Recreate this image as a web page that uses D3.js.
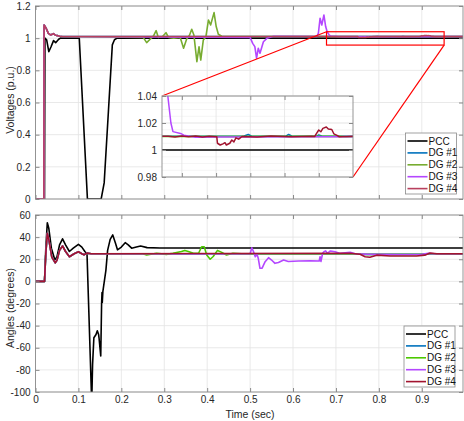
<!DOCTYPE html>
<html>
<head>
<meta charset="utf-8">
<script src="https://cdn.jsdelivr.net/npm/d3@7"></script>
<style>
  html, body { margin: 0; padding: 0; background: #fff; }
  svg { display: block; font-family: "Liberation Sans", Arial, sans-serif; }
  .tick text { font-size: 10px; fill: #262626; }
</style>
</head>
<body>
<div id="chart"></div>
<script>
/* Voltages and angles at the PCC and the four DGs */

const NOMES = ["PCC", "DG #1", "DG #2", "DG #3", "DG #4"];
const CORES_V = ["#000000", "#0072bd", "#77ac30", "#b447ff", "#b8405e"];
const CORES_A = ["#000000", "#0072bd", "#4cc800", "#b447ff", "#a2142f"];

const TICKS_T = [0, 0.1, 0.2, 0.3, 0.4, 0.5, 0.6, 0.7, 0.8, 0.9];
const TICKS_V = [0, 0.2, 0.4, 0.6, 0.8, 1, 1.2];
const TICKS_A = [-100, -80, -60, -40, -20, 0, 20, 40, 60];
const TICKS_IN_T = [0.7, 0.75, 0.8, 0.85, 0.9];
const TICKS_IN_V = [0.98, 1, 1.02, 1.04];

// ---- voltages (p.u.), [t, v]
const vPCC = [[0, 0], [0.021, 0], [0.022, 1.0], [0.026, 0.99], [0.031, 0.916], [0.036, 0.945],
  [0.042, 0.985], [0.047, 0.972], [0.054, 0.993], [0.058, 1.0], [0.102, 1.0], [0.121, 0],
  [0.153, 0], [0.16, 0.1], [0.17, 0.55], [0.179, 0.958], [0.184, 0.99], [0.19, 1.0], [1, 1.0]];
const vInicioDG = [[0, 0], [0.0195, 0], [0.02, 1.082], [0.025, 1.06], [0.03, 1.03], [0.035, 1.02],
  [0.042, 1.028], [0.047, 1.018], [0.051, 1.016], [0.056, 1.012], [0.062, 1.01]];
const vDG1 = vInicioDG.concat([[0.79, 1.0102], [0.797, 1.0115], [0.802, 1.0102], [0.852, 1.0102],
  [0.856, 1.0115], [0.861, 1.0102], [0.897, 1.0102], [0.9, 1.0112], [0.905, 1.0102], [1, 1.0102]]);
const vDG2 = vInicioDG.concat([[0.251, 1.005], [0.259, 0.972], [0.267, 0.993], [0.275, 1.014],
  [0.281, 1.047], [0.286, 1.005], [0.296, 1.01], [0.304, 1.034], [0.31, 1.005], [0.322, 1.0],
  [0.337, 1.005], [0.345, 0.937], [0.352, 0.993], [0.359, 1.02], [0.364, 1.055], [0.369, 1.02],
  [0.376, 0.854], [0.381, 0.947], [0.385, 0.864], [0.391, 0.989], [0.397, 1.009], [0.403, 1.113],
  [0.408, 1.082], [0.416, 1.159], [0.421, 1.072], [0.426, 1.024], [0.434, 1.012], [0.45, 1.01],
  [0.93, 1.0102], [0.94, 1.0098], [1, 1.01]]);
const vDG3 = vInicioDG.concat([[0.5, 1.005], [0.506, 0.968], [0.511, 0.947], [0.515, 0.876],
  [0.519, 0.937], [0.523, 0.906], [0.531, 0.978], [0.539, 0.999], [0.555, 1.012], [0.655, 1.01],
  [0.659, 1.03], [0.663, 1.124], [0.667, 1.082], [0.672, 1.144], [0.676, 1.072], [0.6795, 1.04],
  [0.684, 1.02], [0.687, 1.0136], [0.698, 1.0123], [0.703, 1.011], [0.72, 1.0094], [0.75, 1.0096],
  [0.9, 1.0098], [1, 1.01]]);
const vDG4 = vInicioDG.concat([[0.68, 1.0101], [0.69, 1.0097], [0.7, 1.0103], [0.71, 1.0098],
  [0.72, 1.0104], [0.73, 1.0097], [0.74, 1.0101], [0.751, 1.0099], [0.752, 1.005], [0.756, 1.0037],
  [0.76, 1.0045], [0.763, 1.0054], [0.765, 1.0037], [0.77, 1.005], [0.773, 1.0074], [0.776, 1.006],
  [0.779, 1.009], [0.783, 1.008], [0.788, 1.01], [0.81, 1.0097], [0.83, 1.0103], [0.86, 1.0098],
  [0.89, 1.0101], [0.894, 1.0100], [0.897, 1.0125], [0.9, 1.0148], [0.903, 1.0135], [0.906, 1.016],
  [0.911, 1.017], [0.914, 1.0155], [0.919, 1.0152], [0.922, 1.012], [0.926, 1.011], [0.93, 1.0098],
  [0.95, 1.0102], [1, 1.01]]);

// ---- angles (degrees), [t, graus]
const aPCC = [[0, 0], [0.021, 0], [0.024, 30], [0.0275, 53], [0.031, 48], [0.037, 30],
  [0.045, 19.5], [0.05, 22], [0.056, 33], [0.063, 38.5], [0.07, 33], [0.079, 27], [0.088, 30],
  [0.1, 33.5], [0.108, 31], [0.115, 27], [0.12, 25], [0.131, -110], [0.133, -75], [0.136, -51],
  [0.141, -48], [0.144, -44.6], [0.147, -48], [0.148, -51], [0.152, -67.5], [0.154, -20],
  [0.155, -10], [0.1556, -19], [0.157, -9], [0.164, 10], [0.168, 28], [0.174, 38], [0.18, 42],
  [0.186, 35], [0.191, 28.5], [0.2, 31], [0.209, 35], [0.216, 33], [0.224, 30], [0.235, 31],
  [0.245, 32], [0.26, 30.5], [0.29, 30.2], [1, 30.2]];
const aInicioDG = [[0, 0], [0.021, 0], [0.024, 25], [0.0275, 43.5], [0.031, 38], [0.038, 22],
  [0.046, 16.8], [0.05, 19], [0.056, 28], [0.063, 32], [0.07, 27], [0.079, 22.3], [0.09, 25],
  [0.1, 26.8], [0.108, 25], [0.113, 24], [0.12, 25.5], [0.13, 25]];
const aDG1 = aInicioDG.concat([[0.745, 25], [0.77, 24.4], [0.9, 24.4], [0.93, 25], [1, 25]]);
const aDG2 = aInicioDG.concat([[0.25, 25], [0.259, 23.8], [0.282, 25.4], [0.305, 24.4],
  [0.32, 25.4], [0.34, 27], [0.348, 28], [0.356, 27], [0.368, 25.4], [0.38, 25.4], [0.387, 31.3],
  [0.393, 31.3], [0.399, 23.8], [0.407, 20], [0.414, 22.5], [0.424, 28], [0.434, 26.2],
  [0.445, 23.8], [0.46, 25.4], [0.48, 25], [0.745, 25], [0.77, 24.4], [0.9, 24.4], [0.93, 25], [1, 25]]);
const aDG3 = aInicioDG.concat([[0.5, 25], [0.504, 30.4], [0.508, 26.8], [0.512, 22.3],
  [0.516, 24.5], [0.519, 20.8], [0.523, 11.8], [0.528, 12], [0.535, 17.8], [0.543, 21.4],
  [0.55, 19.3], [0.558, 16.3], [0.566, 17], [0.578, 19.3], [0.589, 18], [0.613, 18.4],
  [0.64, 18.5], [0.661, 18.4], [0.663, 22.3], [0.665, 18], [0.669, 25.4], [0.672, 26.8],
  [0.676, 27.6], [0.68, 25.4], [0.687, 27.5], [0.698, 26.8], [0.71, 25.3], [0.733, 26.3],
  [0.745, 25], [0.77, 24.6], [0.8, 24.4], [0.85, 24.3], [0.9, 24.5], [0.915, 25.3], [0.93, 25], [1, 25]]);
const aDG4 = aInicioDG.concat([[0.733, 25.4], [0.756, 24.5], [0.768, 22.3], [0.779, 21.8],
  [0.795, 23.7], [0.826, 23], [0.888, 23], [0.907, 23.7], [0.919, 25.7], [0.935, 25], [1, 25]]);

const SERIES_V = [vPCC, vDG1, vDG2, vDG3, vDG4];
const SERIES_A = [aPCC, aDG1, aDG2, aDG3, aDG4];

// zoom window drawn in red over the top plot
const JANELA_T = [0.678, 0.952], JANELA_V = [0.957, 1.04];

const W = 464, H = 421;
const x = d3.scaleLinear().domain([0, 0.996]).range([35.5, 463]);
const yV = d3.scaleLinear().domain([0, 1.2]).range([199, 6]);
const yA = d3.scaleLinear().domain([-100, 60]).range([392, 215]);
const xIn = d3.scaleLinear().domain([0.671, 0.95]).range([162, 353]);
const yIn = d3.scaleLinear().domain([0.98, 1.04]).range([177, 96]);

const svg = d3.select("#chart").append("svg").attr("width", W).attr("height", H);
const num = (d) => String(+d.toFixed(3));

function eixos(xs, ys, tx, ty, idClip, gridMenor) {
  const [x0, x1] = xs.range(), [y0, y1] = ys.range();
  const g = svg.append("g");
  g.append("rect").attr("x", x0).attr("y", y1).attr("width", x1 - x0).attr("height", y0 - y1)
    .attr("fill", "#fff");
  svg.append("clipPath").attr("id", idClip).append("rect")
    .attr("x", x0).attr("y", y1).attr("width", x1 - x0).attr("height", y0 - y1);
  if (gridMenor) {
    g.append("g").selectAll("line").data(gridMenor).join("line")
      .attr("x1", x0).attr("x2", x1).attr("y1", (d) => ys(d)).attr("y2", (d) => ys(d))
      .attr("stroke", "#f0f0f0").attr("stroke-width", 0.7);
  }
  g.append("g").selectAll("line").data(tx).join("line")
    .attr("x1", (d) => xs(d)).attr("x2", (d) => xs(d)).attr("y1", y0).attr("y2", y1)
    .attr("stroke", "#e3e3e3").attr("stroke-width", 0.8);
  g.append("g").selectAll("line").data(ty).join("line")
    .attr("x1", x0).attr("x2", x1).attr("y1", (d) => ys(d)).attr("y2", (d) => ys(d))
    .attr("stroke", "#e3e3e3").attr("stroke-width", 0.8);
  return g;
}

function moldura(g, xs, ys, tx, ty, comRotulosX) {
  const [x0, x1] = xs.range(), [y0, y1] = ys.range();
  g.append("g").attr("transform", `translate(0,${y0})`)
    .call(d3.axisBottom(xs).tickValues(tx).tickSize(-4).tickPadding(4)
      .tickFormat(comRotulosX ? num : () => ""));
  g.append("g").attr("transform", `translate(0,${y1})`)
    .call(d3.axisTop(xs).tickValues(tx).tickSize(-4).tickFormat(() => ""));
  g.append("g").attr("transform", `translate(${x0},0)`)
    .call(d3.axisLeft(ys).tickValues(ty).tickSize(-4).tickPadding(5).tickFormat(num));
  g.append("g").attr("transform", `translate(${x1},0)`)
    .call(d3.axisRight(ys).tickValues(ty).tickSize(-4).tickFormat(() => ""));
  g.selectAll(".domain").remove();
  g.selectAll(".tick line").attr("stroke", "#8a8a8a");
  g.append("rect").attr("x", x0).attr("y", y1).attr("width", x1 - x0).attr("height", y0 - y1)
    .attr("fill", "none").attr("stroke", "#8a8a8a").attr("stroke-width", 0.9);
}

function linhas(g, series, cores, xs, ys, idClip, larg) {
  const line = d3.line().x((d) => xs(d[0])).y((d) => ys(d[1]));
  g.append("g").attr("clip-path", `url(#${idClip})`)
    .selectAll("path").data(series).join("path")
    .attr("d", line).attr("fill", "none")
    .attr("stroke", (d, i) => cores[i]).attr("stroke-width", larg)
    .attr("stroke-linejoin", "round");
}

function legenda(x0, y0, cores, grossura) {
  const g = svg.append("g").attr("transform", `translate(${x0},${y0})`);
  g.append("rect").attr("width", 51).attr("height", 61).attr("fill", "#fff")
    .attr("stroke", "#8a8a8a").attr("stroke-width", 0.8);
  const it = g.selectAll("g").data(NOMES).join("g")
    .attr("transform", (d, i) => `translate(0,${8 + i * 11.9})`);
  it.append("line").attr("x1", 2).attr("x2", 22).attr("stroke", (d, i) => cores[i])
    .attr("stroke-width", grossura);
  it.append("text").attr("x", 23).attr("dy", "0.35em").style("font-size", "10px")
    .attr("fill", "#111").text((d) => d);
}

// ---- top: voltages
const gV = eixos(x, yV, TICKS_T, TICKS_V, "clipV");
linhas(gV, SERIES_V, CORES_V, x, yV, "clipV", 1.6);
moldura(gV, x, yV, TICKS_T, TICKS_V, false);

// ---- bottom: angles
const gA = eixos(x, yA, TICKS_T, TICKS_A, "clipA");
linhas(gA, SERIES_A, CORES_A, x, yA, "clipA", 1.6);
moldura(gA, x, yA, TICKS_T, TICKS_A, true);

// zoom rectangle + connectors
svg.append("rect")
  .attr("x", x(JANELA_T[0])).attr("y", yV(JANELA_V[1]))
  .attr("width", x(JANELA_T[1]) - x(JANELA_T[0])).attr("height", yV(JANELA_V[0]) - yV(JANELA_V[1]))
  .attr("fill", "none").attr("stroke", "#ff0000").attr("stroke-width", 1.2);
svg.append("line").attr("x1", x(JANELA_T[0])).attr("y1", yV(JANELA_V[1]))
  .attr("x2", xIn.range()[0]).attr("y2", yIn.range()[1])
  .attr("stroke", "#ff0000").attr("stroke-width", 1.2);
svg.append("line").attr("x1", x(JANELA_T[1])).attr("y1", yV(JANELA_V[0]))
  .attr("x2", xIn.range()[1]).attr("y2", yIn.range()[0])
  .attr("stroke", "#ff0000").attr("stroke-width", 1.2);

// ---- inset
const menor = d3.range(0.98, 1.0401, 0.005);
const gIn = eixos(xIn, yIn, TICKS_IN_T, TICKS_IN_V, "clipIn", menor);
linhas(gIn, SERIES_V, CORES_A, xIn, yIn, "clipIn", 1.5);
moldura(gIn, xIn, yIn, TICKS_IN_T, TICKS_IN_V, false);

legenda(405.5, 133, CORES_V, 1.6);
legenda(404, 326, CORES_A, 1.6);

// axis titles
svg.append("text").attr("transform", "translate(13.5,100) rotate(-90)")
  .attr("text-anchor", "middle").style("font-size", "10.5px").attr("fill", "#262626")
  .text("Voltages (p.u.)");
svg.append("text").attr("transform", "translate(13.5,308) rotate(-90)")
  .attr("text-anchor", "middle").style("font-size", "10.5px").attr("fill", "#262626")
  .text("Angles (degrees)");
svg.append("text").attr("x", 250).attr("y", 417.5)
  .attr("text-anchor", "middle").style("font-size", "10.5px").attr("fill", "#262626")
  .text("Time (sec)");
</script>
</body>
</html>
